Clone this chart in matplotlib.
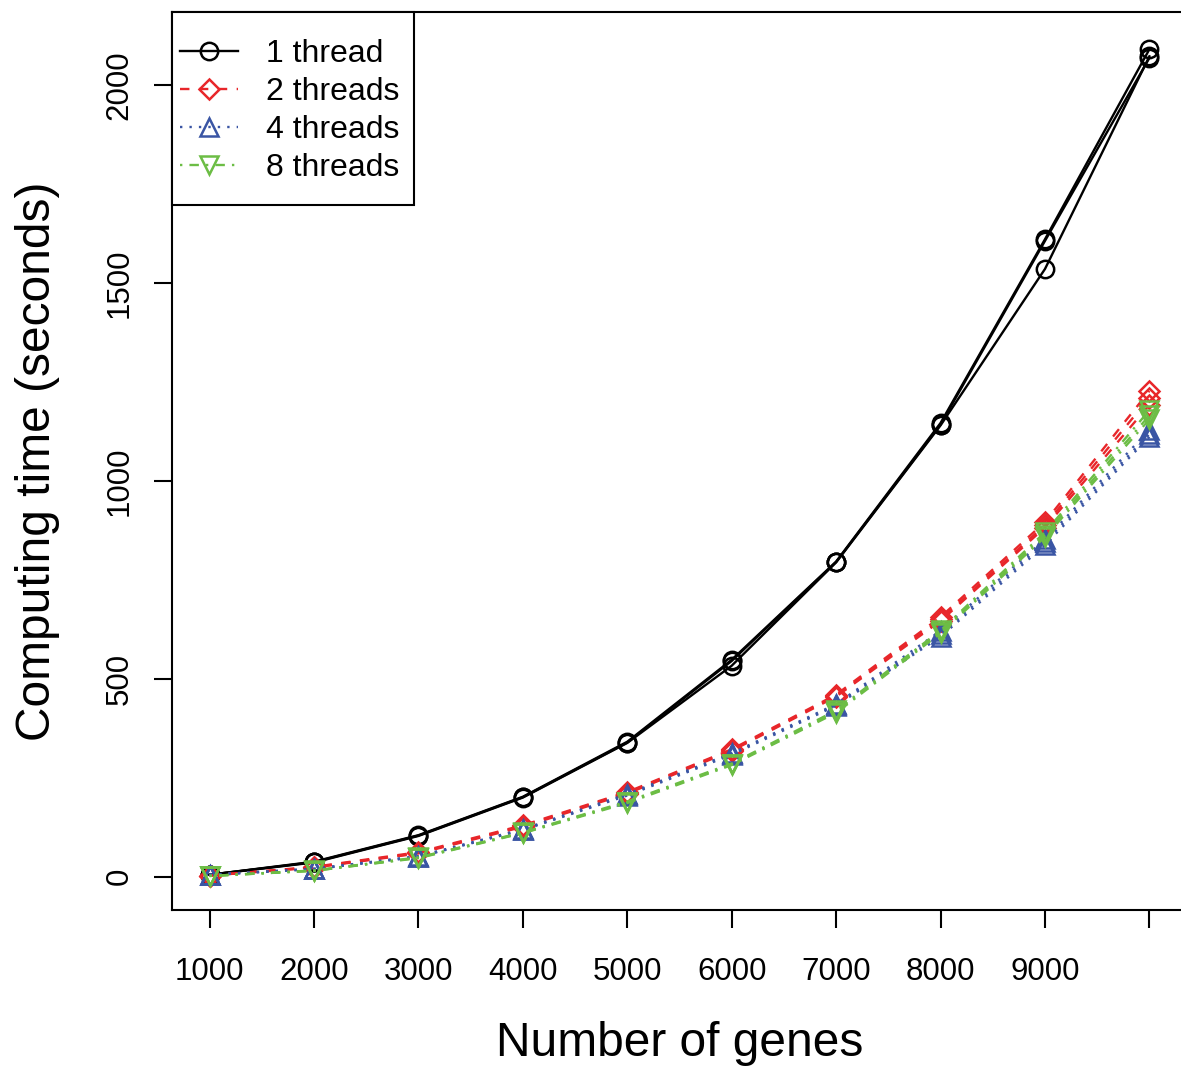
import matplotlib
matplotlib.use("Agg")
import matplotlib.pyplot as plt
from matplotlib.patches import Rectangle

plt.rcParams['font.family'] = ['Liberation Sans', 'DejaVu Sans']

genes = [1000, 2000, 3000, 4000, 5000, 6000, 7000, 8000, 9000, 10000]

# three runs per thread count
t1 = [
    [5, 38, 105, 202, 341, 548, 796, 1146, 1610, 2090],
    [5, 37, 104, 201, 339, 545, 795, 1142, 1606, 2068],
    [5, 36, 103, 200, 338, 533, 794, 1140, 1535, 2072],
]
t2 = [
    [3, 25, 62, 130, 214, 322, 460, 656, 896, 1227],
    [3, 24, 60, 128, 212, 320, 457, 650, 888, 1210],
    [3, 23, 59, 126, 210, 318, 455, 646, 882, 1192],
]
t4 = [
    [5, 20, 52, 120, 209, 312, 436, 621, 852, 1128],
    [5, 20, 51, 119, 207, 310, 434, 612, 845, 1118],
    [5, 19, 50, 118, 205, 308, 432, 606, 838, 1111],
]
t8 = [
    [2, 16, 49, 112, 190, 286, 420, 622, 870, 1178],
    [2, 15, 48, 111, 188, 284, 417, 618, 864, 1165],
    [2, 15, 47, 110, 186, 282, 414, 615, 858, 1155],
]

labels = ['1 thread', '2 threads', '4 threads', '8 threads']
colors = ['black', '#E8262A', '#3A55A4', '#6CBD45']
styles = ['-', (0, (4, 4)), (0, (1, 3)), (0, (1, 3, 4, 3))]
markers = ['o', 'D', '^', 'v']
msizes = [12.5, 10.5, 12.5, 12.5]

W, H = 1181, 1067
fig = plt.figure(figsize=(W / 100, H / 100), dpi=100)
ax = fig.add_axes([172 / W, 157 / H, 1015 / W, 898 / H])

handles = []
for series, lab, c, ls, m, ms in zip([t1, t2, t4, t8], labels, colors, styles, markers, msizes):
    for run in series:
        h, = ax.plot(genes, run, color=c, linestyle=ls, linewidth=1.7,
                     marker=m, markersize=ms, markerfacecolor='none',
                     markeredgecolor=c, markeredgewidth=1.8)
    handles.append(h)

ax.set_xlim(640, 10360)
ax.set_ylim(-84, 2184)
ax.set_xticks(genes)
ax.set_xticklabels([str(g) for g in genes[:-1]] + [''])
ax.set_yticks([0, 500, 1000, 1500, 2000])
ax.set_yticklabels(['0', '500', '1000', '1500', '2000'], rotation=90, va='center')
ax.tick_params(axis='both', labelsize=22.5, length=13, width=1.5, direction='out')
ax.tick_params(axis='x', pad=21)
ax.tick_params(axis='y', pad=14)
for s in ['left', 'bottom', 'top']:
    ax.spines[s].set_linewidth(1.5)
ax.spines['right'].set_visible(False)

ax.set_xlabel('Number of genes', fontsize=34.5, labelpad=24)
ax.set_ylabel('Computing time (seconds)', fontsize=34.5, labelpad=32)

# legend frame drawn by hand so padding can differ horizontally/vertically
box = Rectangle((172 / W, 1 - 205 / H), 242 / W, 193 / H, transform=fig.transFigure,
                facecolor='white', edgecolor='black', linewidth=1.5, zorder=4)
ax.add_patch(box)
box.set_clip_on(False)

leg = ax.legend(handles, labels, loc='upper left',
                bbox_to_anchor=(180 / W, 1 - 39 / H), bbox_transform=fig.transFigure,
                borderaxespad=0, fontsize=23, frameon=False,
                handlelength=1.8, handletextpad=0.9, labelspacing=0.25,
                borderpad=0, markerscale=1.0)
leg.set_zorder(5)

fig.savefig('out.png', dpi=100)
